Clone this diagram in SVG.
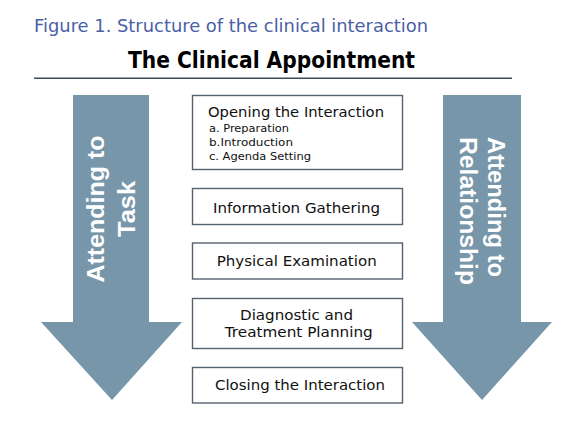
<svg xmlns="http://www.w3.org/2000/svg" width="571" height="424" viewBox="0 0 571 424">
<style>
.box{fill:#ffffff;stroke:#56616e;stroke-width:1.4}
.arrow{fill:#7896aa}
.t{font-family:"DejaVu Sans","Liberation Sans",sans-serif;font-size:13.5px;fill:#111111;text-anchor:middle}
.s{font-family:"DejaVu Sans","Liberation Sans",sans-serif;font-size:10.5px;fill:#111111}
.a{font-family:"Liberation Sans",Arial,sans-serif;font-size:24px;font-weight:bold;fill:#ffffff}
</style>
<rect width="571" height="424" fill="#ffffff"/>
<text x="34" y="31.5" font-family="'DejaVu Sans','Liberation Sans',sans-serif" font-size="18" fill="#4b5fa6" textLength="394" lengthAdjust="spacingAndGlyphs">Figure 1. Structure of the clinical interaction</text>
<text x="271.5" y="68.3" font-family="'DejaVu Sans','Liberation Sans',sans-serif" font-size="22.5" font-weight="bold" fill="#000000" text-anchor="middle" textLength="287" lengthAdjust="spacingAndGlyphs">The Clinical Appointment</text>
<line x1="34" y1="78.3" x2="512" y2="78.3" stroke="#3e4b5c" stroke-width="1.6"/>

<g id="arrow-task">
<polygon class="arrow" points="73,95 149,95 149,322 182,322 112,400 41,322 73,322"/>
<g transform="translate(111,209) rotate(-90)">
<text class="a" x="0" y="-7" text-anchor="middle" textLength="147" lengthAdjust="spacingAndGlyphs">Attending to</text>
<text class="a" x="0" y="24" text-anchor="middle" textLength="56" lengthAdjust="spacingAndGlyphs">Task</text>
</g>
</g>

<g id="arrow-relationship">
<polygon class="arrow" points="443,95 521,95 521,322 552,322 482,400 412,322 443,322"/>
<g transform="translate(482,137) rotate(90)">
<text class="a" x="0" y="-6" textLength="140" lengthAdjust="spacingAndGlyphs">Attending to</text>
<text class="a" x="0" y="22" textLength="148" lengthAdjust="spacingAndGlyphs">Relationship</text>
</g>
</g>

<g id="opening">
<rect class="box" x="192.5" y="95.5" width="210" height="74"/>
<text class="t" x="296" y="117" textLength="176" lengthAdjust="spacingAndGlyphs">Opening the Interaction</text>
<text class="s" x="209" y="131.7" textLength="80" lengthAdjust="spacingAndGlyphs">a. Preparation</text>
<text class="s" x="209" y="146" textLength="84" lengthAdjust="spacingAndGlyphs">b.Introduction</text>
<text class="s" x="209" y="160" textLength="102" lengthAdjust="spacingAndGlyphs">c. Agenda Setting</text>
</g>

<g id="information">
<rect class="box" x="192.5" y="188.5" width="210" height="36"/>
<text class="t" x="296.5" y="213" textLength="167" lengthAdjust="spacingAndGlyphs">Information Gathering</text>
</g>

<g id="physical">
<rect class="box" x="192.5" y="243" width="210" height="36"/>
<text class="t" x="296.7" y="265.5" textLength="160" lengthAdjust="spacingAndGlyphs">Physical Examination</text>
</g>

<g id="diagnostic">
<rect class="box" x="192.5" y="298.5" width="210" height="50"/>
<text class="t" x="296.5" y="320" textLength="113" lengthAdjust="spacingAndGlyphs">Diagnostic and</text>
<text class="t" x="298.8" y="337" textLength="148" lengthAdjust="spacingAndGlyphs">Treatment Planning</text>
</g>

<g id="closing">
<rect class="box" x="192.5" y="367.5" width="210" height="35.5"/>
<text class="t" x="300" y="389.5" textLength="170" lengthAdjust="spacingAndGlyphs">Closing the Interaction</text>
</g>

<g id="connectors"></g>
</svg>
